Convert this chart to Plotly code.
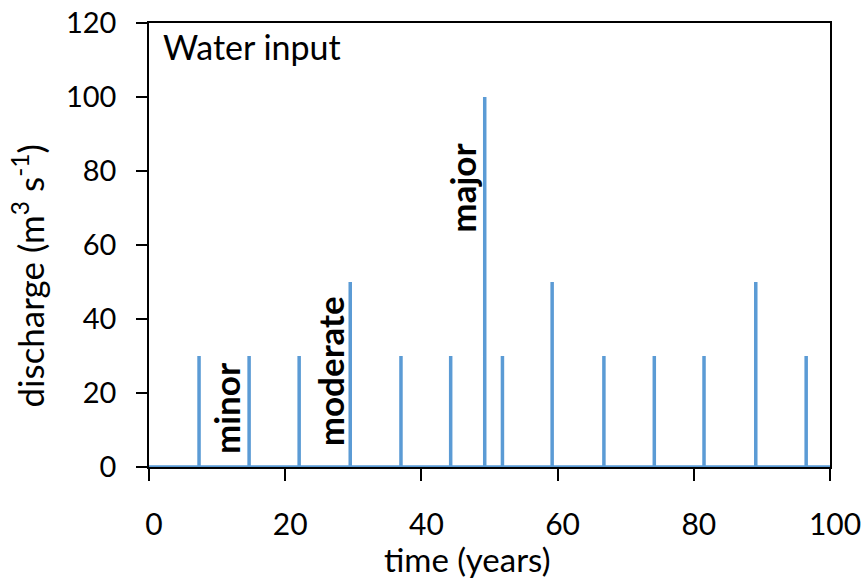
import plotly.graph_objects as go

# data
event_times = [7.35, 14.7, 22.05, 29.55, 37.0, 44.3, 49.3, 51.9, 59.2, 66.8, 74.2, 81.5, 89.1, 96.5]
event_discharge = [30, 30, 30, 50, 30, 30, 100, 30, 50, 30, 30, 30, 50, 30]
time_range = [0, 100]
x_ticks = [0, 20, 40, 60, 80, 100]
y_ticks = [0, 20, 40, 60, 80, 100, 120]
labels = ["minor", "moderate", "major"]
label_x = [11.3, 26.6, 46.0]
label_y = [15.9, 25.9, 75.3]

# build the spike series: baseline at 0 with vertical pulses
xs = [time_range[0]]
ys = [0]
for t, q in zip(event_times, event_discharge):
    xs += [t, t, t]
    ys += [0, q, 0]
xs.append(time_range[1])
ys.append(0)

FONT = "Lato"
BLUE = "#5B9BD5"

fig = go.Figure()
fig.add_trace(go.Scatter(x=xs, y=ys, mode="lines",
                         line=dict(color=BLUE, width=3.5),
                         hoverinfo="skip", showlegend=False, cliponaxis=False))

for txt, lx, ly in zip(labels, label_x, label_y):
    fig.add_annotation(x=lx, y=ly, text="<b>" + txt + "</b>", textangle=-90,
                       showarrow=False, xref="x", yref="y",
                       font=dict(family=FONT, size=35, color="black"))

fig.add_annotation(x=0, y=1, xref="paper", yref="paper", xanchor="left", yanchor="top",
                   xshift=12, yshift=-1, text="Water input", showarrow=False,
                   font=dict(family=FONT, size=34, color="black"))

# axis titles (placed as annotations to match the reference offsets)
fig.add_annotation(x=0.4684, y=0, xref="paper", yref="paper", xanchor="center",
                   yanchor="middle", yshift=-92, text="time (years)", showarrow=False,
                   font=dict(family=FONT, size=33, color="black"))
fig.add_annotation(x=0, y=0.429, xref="paper", yref="paper", xanchor="center",
                   yanchor="middle", xshift=-121, textangle=-90,
                   text="discharge (m<sup>3</sup> s<sup>-1</sup>)", showarrow=False,
                   font=dict(family=FONT, size=35, color="black"))

fig.update_layout(
    width=864, height=579,
    margin=dict(l=149, r=34, t=23, b=112, autoexpand=False),
    paper_bgcolor="white", plot_bgcolor="white",
    font=dict(family=FONT, size=29, color="black"),
    xaxis=dict(range=time_range, tickvals=x_ticks, ticks="outside", ticklen=12,
               tickcolor="black", tickwidth=1.5, showline=True, linecolor="black",
               linewidth=1.5, mirror=True, showgrid=False, zeroline=False,
               ticklabelstandoff=18, ticklabelshift=5, automargin=False,
               tickfont=dict(size=30)),
    yaxis=dict(range=[0, 120], tickvals=y_ticks, ticks="outside", ticklen=11,
               tickcolor="black", tickwidth=1.5, showline=True, linecolor="black",
               linewidth=1.5, mirror=True, showgrid=False, zeroline=False,
               ticklabelstandoff=14, automargin=False),
)

fig.write_html("out.html")
